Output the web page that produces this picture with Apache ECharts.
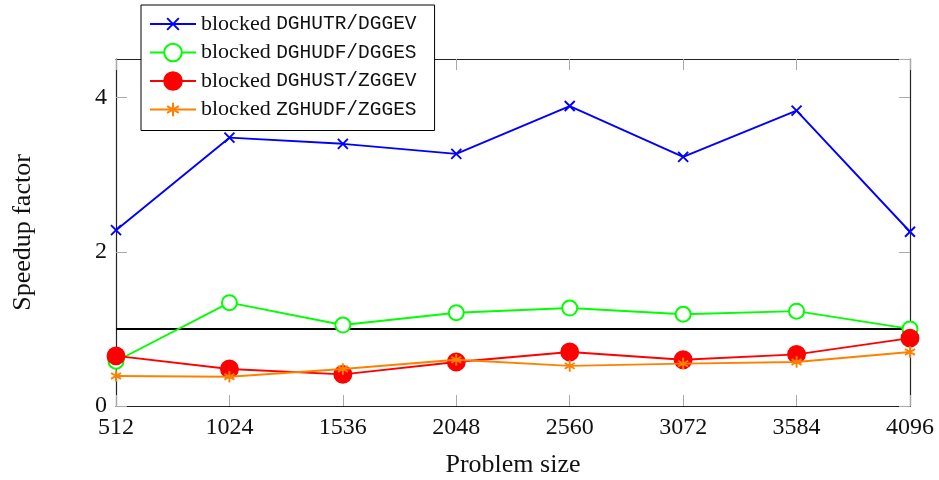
<!DOCTYPE html>
<html>
<head>
<meta charset="utf-8">
<script src="https://cdn.jsdelivr.net/npm/echarts@6/dist/echarts.min.js"></script>
<style>
html,body{margin:0;padding:0;background:#fff;}
#chart{width:939px;height:480px;}
</style>
</head>
<body>
<div id="chart"></div>
<script>
const problemSizes = [512, 1024, 1536, 2048, 2560, 3072, 3584, 4096];
const seriesNames = ['DGHUTR/DGGEV', 'DGHUDF/DGGES', 'DGHUST/ZGGEV', 'ZGHUDF/ZGGES'];
const dghutr = [2.28, 3.48, 3.40, 3.27, 3.89, 3.23, 3.83, 2.26];
const dghudf = [0.58, 1.34, 1.05, 1.21, 1.27, 1.19, 1.23, 1.00];
const dghust = [0.65, 0.48, 0.41, 0.57, 0.70, 0.60, 0.67, 0.88];
const zghudf = [0.39, 0.38, 0.48, 0.60, 0.52, 0.55, 0.57, 0.70];
const referenceLevel = 1;

const pairs = vals => problemSizes.map((x, i) => [x, vals[i]]);
// padded paths (extra moveTo points enlarge the bounding box so the glyph is smaller in the box)
const crossPath = 'path://M-2.5,-2.5M12.5,12.5M0,0L10,10M10,0L0,10';
const starPath = 'path://M-1.5,-1.5M11.5,11.5M5,0L5,10M0.67,2.5L9.33,7.5M0.67,7.5L9.33,2.5';

const chart = echarts.init(document.getElementById('chart'), null, {renderer: 'canvas'});
const serif = '"Liberation Serif", "Times New Roman", serif';
const mono = '"Liberation Mono", "DejaVu Sans Mono", monospace';

function lineSeries(idx, vals, color, symbol, size, z) {
  return {
    name: seriesNames[idx], type: 'line', data: pairs(vals),
    symbol: symbol, symbolSize: size, showSymbol: true,
    lineStyle: {color: color, width: 1.9},
    itemStyle: {color: color, borderColor: color, borderWidth: 1.9},
    emphasis: {disabled: true}, animation: false, z: z
  };
}

const axisLineStyle = {show: true, onZero: false, lineStyle: {color: '#222', width: 1.2}};
const tickStyle = {show: true, inside: true, length: 11, lineStyle: {color: '#aaa', width: 1}};

const option = {
  backgroundColor: '#fff',
  animation: false,
  grid: {left: 116, right: 29, top: 59, bottom: 74, containLabel: false, outerBoundsMode: 'none'},
  legend: {
    orient: 'vertical', left: 141, top: 5,
    backgroundColor: '#fff', borderColor: '#000', borderWidth: 1,
    padding: [8, 18, 10, 8],
    itemWidth: 46, itemHeight: 22, itemGap: 6.5,
    data: seriesNames,
    formatter: name => '{a|blocked }{b|' + name + '}',
    textStyle: {
      color: '#111',
      rich: {
        a: {fontFamily: serif, fontSize: 22, color: '#111', lineHeight: 22},
        b: {fontFamily: mono, fontSize: 19.5, color: '#111', lineHeight: 22}
      }
    }
  },
  xAxis: [{
    type: 'value', min: 512, max: 4096, interval: 512, position: 'bottom',
    name: 'Problem size', nameLocation: 'middle', nameGap: 46,
    nameTextStyle: {fontFamily: serif, fontSize: 26, color: '#111'},
    axisLine: axisLineStyle, axisTick: tickStyle,
    axisLabel: {fontFamily: serif, fontSize: 24, color: '#111', margin: 10, formatter: v => String(v)},
    splitLine: {show: false}
  }, {
    type: 'value', min: 512, max: 4096, interval: 512, position: 'top',
    axisLine: axisLineStyle, axisTick: tickStyle,
    axisLabel: {show: false}, splitLine: {show: false}
  }],
  yAxis: [{
    type: 'value', min: 0, max: 4.5, interval: 2, position: 'left',
    name: 'Speedup factor', nameLocation: 'middle', nameGap: 80,
    nameTextStyle: {fontFamily: serif, fontSize: 26, color: '#111'},
    axisLine: axisLineStyle, axisTick: tickStyle,
    axisLabel: {fontFamily: serif, fontSize: 24, color: '#111', margin: 9, showMaxLabel: false,
      formatter: v => (v % 2 === 0 ? String(v) : '')},
    splitLine: {show: false}
  }, {
    type: 'value', min: 0, max: 4.5, interval: 2, position: 'right',
    axisLine: axisLineStyle, axisTick: tickStyle,
    axisLabel: {show: false}, splitLine: {show: false}
  }],
  series: [
    {
      name: 'reference', type: 'line', data: [[512, referenceLevel], [4096, referenceLevel]],
      symbol: 'none', lineStyle: {color: '#000', width: 2}, silent: true, z: 1
    },
    lineSeries(0, dghutr, '#0000ff', crossPath, 15, 3),
    lineSeries(1, dghudf, '#00ff00', 'emptyCircle', 15, 4),
    lineSeries(2, dghust, '#ff0000', 'circle', 17, 5),
    lineSeries(3, zghudf, '#ff8000', starPath, 15, 6)
  ]
};
chart.setOption(option);
</script>
</body>
</html>
